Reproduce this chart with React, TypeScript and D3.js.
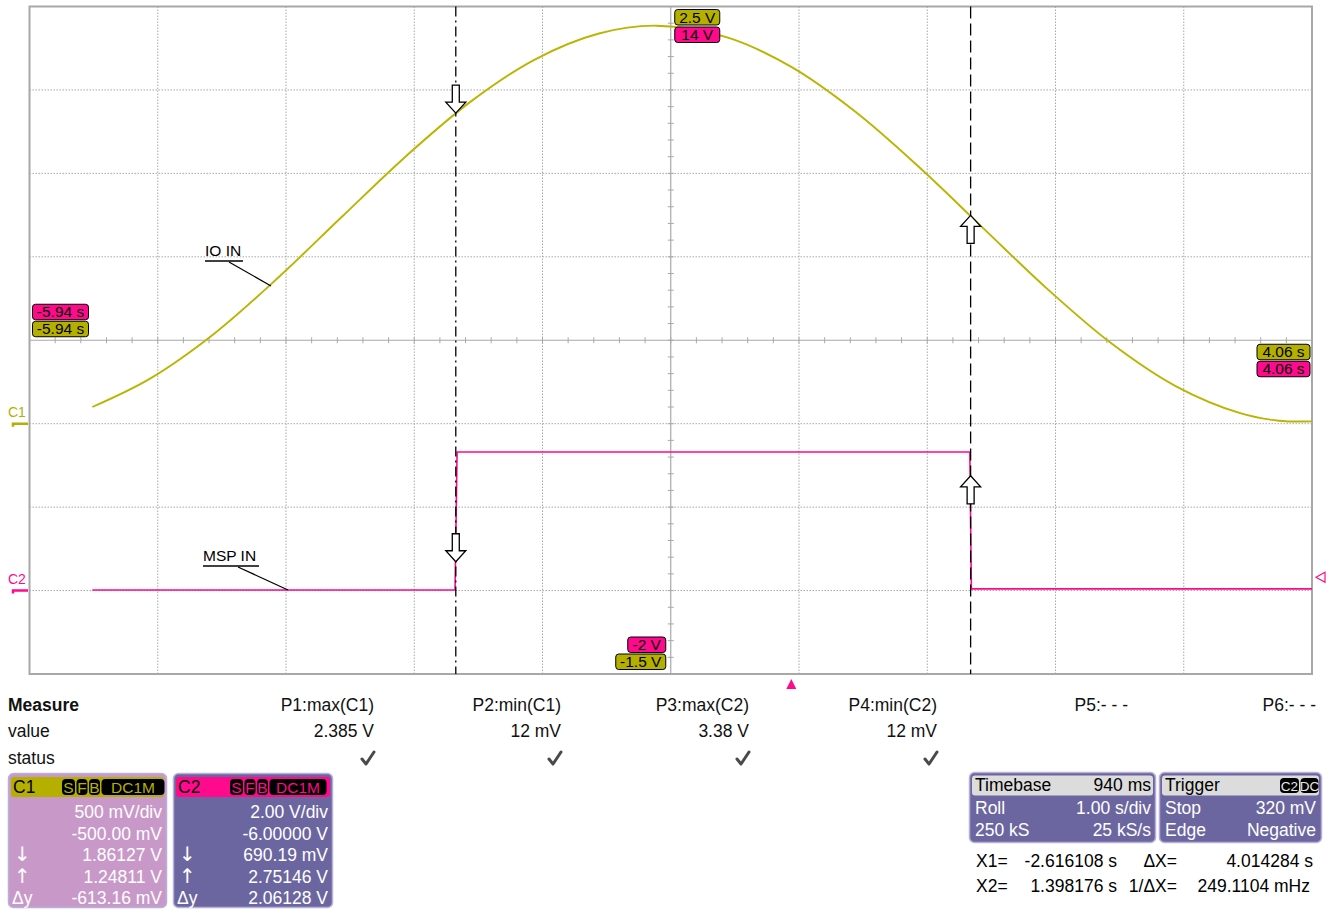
import React from 'react';
import * as d3 from 'd3';

// ---------- data ----------
const TIME_RANGE = [-5.94, 4.06];
const C1_RANGE = [-1.5, 2.5];
const C2_RANGE = [-2, 14];
const X_DIVS = 10;
const Y_DIVS = 8;

const ioInTime = [-5.45, -5.0, -4.5, -4.0, -3.5, -3.0, -2.5, -2.0, -1.5, -1.05, -0.5, 0.0, 0.5, 1.0, 1.5, 2.0, 2.5, 3.0, 3.5, 3.8, 4.06];
const ioInVolts = [0.1, 0.27, 0.539, 0.876, 1.243, 1.606, 1.93, 2.182, 2.338, 2.385, 2.315, 2.138, 1.869, 1.535, 1.169, 0.805, 0.479, 0.224, 0.063, 0.018, 0.014];

const mspInTime = [-5.45, -2.622, -2.606, 1.392, 1.404, 4.06];
const mspInVolts = [0.012, 0.012, 3.32, 3.32, 0.04, 0.04];

const cursorX1 = -2.616108;
const cursorX2 = 1.398176;
const c1AtCursors = [1.86127, 1.24811];
const c2AtCursors = [0.69019, 2.75146];
const triggerTime = 0;
const triggerLevel = 0.32;

const topTags = ['2.5 V', '14 V'];
const bottomTags = ['-2 V', '-1.5 V'];
const leftTags = ['-5.94 s', '-5.94 s'];
const rightTags = ['4.06 s', '4.06 s'];

const measureHeaders = ['P1:max(C1)', 'P2:min(C1)', 'P3:max(C2)', 'P4:min(C2)', 'P5:- - -', 'P6:- - -'];
const measureValues = ['2.385 V', '12 mV', '3.38 V', '12 mV', '', ''];
const measureStatus = [true, true, true, true, false, false];

const badges = ['S', 'F', 'B', 'DC1M'];
const c1Rows = ['500 mV/div', '-500.00 mV', '1.86127 V', '1.24811 V', '-613.16 mV'];
const c2Rows = ['2.00 V/div', '-6.00000 V', '690.19 mV', '2.75146 V', '2.06128 V'];
const rowSymbols = ['', '', '\u2193', '\u2191', '\u0394y'];

const timebaseRows = [['Roll', '1.00 s/div'], ['250 kS', '25 kS/s']];
const triggerRows = [['Stop', '320 mV'], ['Edge', 'Negative']];
const readoutRow1 = ['X1=', '-2.616108 s', '\u0394X=', '4.014284 s'];
const readoutRow2 = ['X2=', '1.398176 s', '1/\u0394X=', '249.1104 mHz'];

// ---------- style ----------
const OLIVE = '#b5b000';
const OLIVE_LINE = '#bab500';
const PINK = '#ff0a8c';
const GRID = '#a8a8a8';
const SLATE = '#6c66a0';
const LILAC = '#c899c8';
const FONT = '"Liberation Sans", Arial, sans-serif';
const FS = 17.5;

const W = 1333, H = 910;
const PL = 29.5, PR = 1312, PT = 6.5, PB = 674;

function Tag({ x0, y0, w, fill, label }: any) {
  return (
    <g>
      <rect x={x0} y={y0} width={w} height={15.5} rx={3} fill={fill} stroke="#000" strokeWidth={1} />
      <text x={x0 + w / 2} y={y0 + 13} textAnchor="middle" fontSize={15.5} fill="#000">{label}</text>
    </g>
  );
}

function Arrow({ x, tip, dir }: any) {
  const s = dir === 'down' ? -1 : 1;
  const d = `M${x - 3.5},${tip + s * 28} L${x + 3.5},${tip + s * 28} L${x + 3.5},${tip + s * 11} L${x + 10},${tip + s * 11} L${x},${tip} L${x - 10},${tip + s * 11} L${x - 3.5},${tip + s * 11} Z`;
  return <path d={d} fill="#fff" stroke="#000" strokeWidth={1.3} />;
}

function Check({ cx, cy }: any) {
  return <path d={`M${cx - 6},${cy} L${cx - 2},${cy + 5} L${cx + 6},${cy - 7}`} fill="none" stroke="#4a4a4a" strokeWidth={3} strokeLinecap="round" strokeLinejoin="round" />;
}

function Badges({ x0, y0, fillText, widths }: any) {
  let cx = x0;
  return (
    <g>
      {badges.map((b, i) => {
        const w = widths[i];
        const g = (
          <g key={i}>
            <rect x={cx} y={y0} width={w} height={16} rx={4} fill="#000" />
            <text x={cx + w / 2} y={y0 + 13.5} textAnchor="middle" fontSize={15.5} fill={fillText}>{b}</text>
          </g>
        );
        cx += w + 1.5;
        return g;
      })}
    </g>
  );
}

function SymbolText({ x0, y0, s }: any) {
  if (s === '\u0394y') return <text x={x0} y={y0} fontSize={FS}>{s}</text>;
  return <text x={x0 + 2} y={y0} fontSize={20} fontFamily="DejaVu Sans">{s}</text>;
}

export default function App() {
  const x = d3.scaleLinear().domain(TIME_RANGE).range([PL, PR]);
  const y1 = d3.scaleLinear().domain(C1_RANGE).range([PB, PT]);
  const y2 = d3.scaleLinear().domain(C2_RANGE).range([PB, PT]);

  const dx = (PR - PL) / X_DIVS;
  const dy = (PB - PT) / Y_DIVS;
  const cx = (PL + PR) / 2;
  const cy = (PT + PB) / 2;

  const ioLine = d3.line<number>().x((_, i) => x(ioInTime[i])).y((v) => y1(v)).curve(d3.curveCatmullRom);
  const mspLine = d3.line<number>().x((_, i) => x(mspInTime[i])).y((v) => y2(v));

  const vLines = d3.range(1, X_DIVS).filter((i) => i !== X_DIVS / 2).map((i) => PL + i * dx);
  const hLines = d3.range(1, Y_DIVS).filter((i) => i !== Y_DIVS / 2).map((i) => PT + i * dy);
  const xMinor = d3.range(1, X_DIVS * 5).map((i) => PL + (i * dx) / 5);
  const yMinor = d3.range(1, Y_DIVS * 5).map((i) => PT + (i * dy) / 5);

  const x1p = x(cursorX1);
  const x2p = x(cursorX2);
  const c1zero = y1(0);
  const c2zero = y2(0);

  const colRight = [374, 561, 749, 937, 1128, 1316];

  return (
    <svg width={W} height={H} style={{ position: 'fixed', left: 0, top: 0, background: '#fff' }} fontFamily={FONT}>
      <rect x={0} y={0} width={W} height={H} fill="#fff" />
      {/* grid */}
      {vLines.map((v, i) => (
        <line key={'v' + i} x1={v} x2={v} y1={PT} y2={PB} stroke={GRID} strokeDasharray="1.5,1.5" />
      ))}
      {hLines.map((h, i) => (
        <line key={'h' + i} x1={PL} x2={PR} y1={h} y2={h} stroke={GRID} strokeDasharray="1.5,1.5" />
      ))}
      <line x1={PL} x2={PR} y1={cy} y2={cy} stroke={GRID} strokeWidth={1.2} />
      <line x1={cx} x2={cx} y1={PT} y2={PB} stroke={GRID} strokeWidth={1.2} />
      {xMinor.map((v, i) => (
        <line key={'xm' + i} x1={v} x2={v} y1={cy - 3} y2={cy + 3} stroke={GRID} />
      ))}
      {yMinor.map((v, i) => (
        <line key={'ym' + i} x1={cx - 3} x2={cx + 3} y1={v} y2={v} stroke={GRID} />
      ))}
      <rect x={PL} y={PT} width={PR - PL} height={PB - PT} fill="none" stroke={GRID} strokeWidth={2} />

      {/* traces */}
      <path d={ioLine(ioInVolts) || ''} fill="none" stroke={OLIVE_LINE} strokeWidth={1.9} />
      <path d={mspLine(mspInVolts) || ''} fill="none" stroke={PINK} strokeWidth={1.6} />

      {/* cursors */}
      <line x1={x1p} x2={x1p} y1={PT} y2={PB} stroke="#000" strokeWidth={1.3} strokeDasharray="10,4,2,4" />
      <line x1={x2p} x2={x2p} y1={PT} y2={PB} stroke="#000" strokeWidth={1.3} strokeDasharray="12,5" />
      <Arrow x={x1p} tip={y1(c1AtCursors[0])} dir="down" />
      <Arrow x={x1p} tip={y2(c2AtCursors[0])} dir="down" />
      <Arrow x={x2p} tip={y1(c1AtCursors[1])} dir="up" />
      <Arrow x={x2p} tip={y2(c2AtCursors[1])} dir="up" />

      {/* trace labels */}
      <text x={205} y={256} fontSize={15.5} fill="#000">IO IN</text>
      <line x1={205} x2={243} y1={261} y2={261} stroke="#000" strokeWidth={1.3} />
      <line x1={229} x2={271} y1={262} y2={286} stroke="#000" strokeWidth={1.2} />
      <text x={203} y={561} fontSize={15.5} fill="#000">MSP IN</text>
      <line x1={203} x2={259} y1={566} y2={566} stroke="#000" strokeWidth={1.3} />
      <line x1={238} x2={288} y1={567} y2={590} stroke="#000" strokeWidth={1.2} />

      {/* channel markers */}
      <text x={8} y={417} fontSize={14} fill={OLIVE}>C1</text>
      <path d={`M13,${c1zero + 3} L13,${c1zero} L28,${c1zero}`} fill="none" stroke={OLIVE} strokeWidth={2.5} />
      <text x={8} y={584} fontSize={14} fill={PINK}>C2</text>
      <path d={`M13,${c2zero + 3} L13,${c2zero} L28,${c2zero}`} fill="none" stroke={PINK} strokeWidth={2.5} />

      {/* trigger markers */}
      <path d={`M${x(triggerTime)},${PB + 5} L${x(triggerTime) + 5},${PB + 15} L${x(triggerTime) - 5},${PB + 15} Z`} fill={PINK} />
      <path d={`M${PR + 4},${y2(triggerLevel)} L${PR + 13},${y2(triggerLevel) - 5} L${PR + 13},${y2(triggerLevel) + 5} Z`} fill="#fff" stroke={PINK} strokeWidth={1.2} />

      {/* tags */}
      <Tag x0={cx + 4} y0={PT + 3} w={45} fill={OLIVE} label={topTags[0]} />
      <Tag x0={cx + 4} y0={PT + 20.5} w={45} fill={PINK} label={topTags[1]} />
      <Tag x0={cx - 43} y0={PB - 37} w={38} fill={PINK} label={bottomTags[0]} />
      <Tag x0={cx - 55} y0={PB - 20} w={50} fill={OLIVE} label={bottomTags[1]} />
      <Tag x0={x(TIME_RANGE[0]) + 3} y0={cy - 36} w={56} fill={PINK} label={leftTags[0]} />
      <Tag x0={x(TIME_RANGE[0]) + 3} y0={cy - 19} w={56} fill={OLIVE} label={leftTags[1]} />
      <Tag x0={x(TIME_RANGE[1]) - 55} y0={cy + 4} w={53} fill={OLIVE} label={rightTags[0]} />
      <Tag x0={x(TIME_RANGE[1]) - 55} y0={cy + 21} w={53} fill={PINK} label={rightTags[1]} />

      {/* measure table */}
      <g fontSize={FS} fill="#111">
        <text x={8} y={711} fontWeight="bold">Measure</text>
        <text x={8} y={737}>value</text>
        <text x={8} y={764}>status</text>
        {measureHeaders.map((h, i) => (
          <text key={'mh' + i} x={colRight[i]} y={711} textAnchor="end">{h}</text>
        ))}
        {measureValues.map((v, i) => (
          <text key={'mv' + i} x={colRight[i]} y={737} textAnchor="end">{v}</text>
        ))}
      </g>
      {measureStatus.map((s, i) => (s ? <Check key={'ck' + i} cx={colRight[i] - 6} cy={759} /> : null))}

      {/* C1 panel */}
      <rect x={8.5} y={773.5} width={158} height={134} rx={5} fill={LILAC} stroke="#b9b0d8" strokeWidth={1.5} />
      <rect x={11} y={777} width={153} height={20} rx={3} fill={OLIVE} />
      <text x={13} y={793} fontSize={FS} fill="#000">C1</text>
      <Badges x0={62} y0={779} fillText={OLIVE} widths={[13, 11, 11, 63]} />
      <g fontSize={FS} fill="#fff">
        {c1Rows.map((r, i) => (
          <text key={'c1' + i} x={162} y={818 + i * 21.5} textAnchor="end">{r}</text>
        ))}
        {rowSymbols.map((s, i) => (s ? <SymbolText key={'s1' + i} x0={12} y0={818 + i * 21.5} s={s} /> : null))}
      </g>

      {/* C2 panel */}
      <rect x={173.5} y={773.5} width={159} height={134} rx={5} fill={SLATE} stroke="#b9b0d8" strokeWidth={1.5} />
      <rect x={176} y={777} width={154} height={20} rx={3} fill={PINK} />
      <text x={178} y={793} fontSize={FS} fill="#000">C2</text>
      <Badges x0={230} y0={779} fillText={PINK} widths={[13, 11, 11, 57]} />
      <g fontSize={FS} fill="#fff">
        {c2Rows.map((r, i) => (
          <text key={'c2' + i} x={328} y={818 + i * 21.5} textAnchor="end">{r}</text>
        ))}
        {rowSymbols.map((s, i) => (s ? <SymbolText key={'s2' + i} x0={177} y0={818 + i * 21.5} s={s} /> : null))}
      </g>

      {/* Timebase panel */}
      <rect x={969.5} y={772.5} width={186} height={70} rx={5} fill={SLATE} stroke="#b9b0d8" strokeWidth={1.5} />
      <rect x={972} y={775.5} width={181} height={20} rx={3} fill="#dcdcdc" />
      <text x={975} y={791} fontSize={FS} fill="#000">Timebase</text>
      <text x={1151} y={791} fontSize={FS} fill="#000" textAnchor="end">940 ms</text>
      <g fontSize={FS} fill="#fff">
        {timebaseRows.map((r, i) => (
          <g key={'tb' + i}>
            <text x={975} y={814 + i * 22}>{r[0]}</text>
            <text x={1151} y={814 + i * 22} textAnchor="end">{r[1]}</text>
          </g>
        ))}
      </g>

      {/* Trigger panel */}
      <rect x={1159.5} y={772.5} width={162} height={70} rx={5} fill={SLATE} stroke="#b9b0d8" strokeWidth={1.5} />
      <rect x={1162} y={775.5} width={157} height={20} rx={3} fill="#dcdcdc" />
      <text x={1165} y={791} fontSize={FS} fill="#000">Trigger</text>
      <rect x={1280} y={778} width={19} height={15} rx={4} fill="#000" />
      <text x={1289.5} y={790.5} fontSize={13.5} fill="#e8e8e8" textAnchor="middle">C2</text>
      <rect x={1300.5} y={778} width={18} height={15} rx={4} fill="#000" />
      <text x={1309.5} y={790.5} fontSize={13.5} fill="#e8e8e8" textAnchor="middle">DC</text>
      <g fontSize={FS} fill="#fff">
        {triggerRows.map((r, i) => (
          <g key={'tr' + i}>
            <text x={1165} y={814 + i * 22}>{r[0]}</text>
            <text x={1316} y={814 + i * 22} textAnchor="end">{r[1]}</text>
          </g>
        ))}
      </g>

      {/* cursor readouts */}
      <g fontSize={FS} fill="#000">
        <text x={976} y={867}>{readoutRow1[0]}</text>
        <text x={1117} y={867} textAnchor="end">{readoutRow1[1]}</text>
        <text x={1177} y={867} textAnchor="end">{readoutRow1[2]}</text>
        <text x={1313} y={867} textAnchor="end">{readoutRow1[3]}</text>
        <text x={976} y={892}>{readoutRow2[0]}</text>
        <text x={1117} y={892} textAnchor="end">{readoutRow2[1]}</text>
        <text x={1177} y={892} textAnchor="end">{readoutRow2[2]}</text>
        <text x={1310} y={892} textAnchor="end">{readoutRow2[3]}</text>
      </g>
    </svg>
  );
}
